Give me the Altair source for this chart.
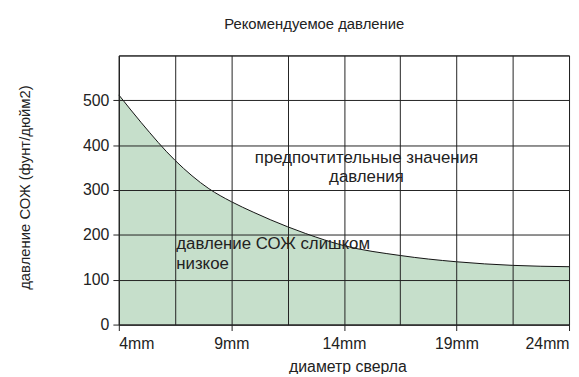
import altair as alt
import pandas as pd

# data
diam = [4, 5, 6.5, 8, 9, 10, 11.5, 12.3, 14, 16.5, 19, 21.5, 24]
press = [512, 450, 366, 303, 274, 250, 218, 203, 176, 154, 140, 132, 129]

grid_x = [4, 6.5, 9, 11.5, 14, 16.5, 19, 21.5, 24]
grid_y = [0, 100, 200, 300, 400, 500, 600]

notes = ["предпочтительные значения\nдавления", "давление СОЖ слишком\nнизкое"]
note_x = [15.0, 6.55]
note_y = [371, 179]
note_align = ["center", "left"]

FONT = "Liberation Sans"

df = pd.DataFrame({"d": diam, "p": press})
notes_df = pd.DataFrame({"t": notes, "x": note_x, "y": note_y, "a": note_align})

xscale = alt.Scale(domain=[4, 24], nice=False, zero=False)
yscale = alt.Scale(domain=[0, 600], nice=False)

area = alt.Chart(df).mark_area(
    color="#c6dfcb", opacity=1, interpolate="monotone",
    line={"color": "#111", "strokeWidth": 1}
).encode(
    x=alt.X("d:Q", scale=xscale, title="диаметр сверла",
            axis=alt.Axis(values=grid_x, grid=True, gridColor="#222", gridOpacity=1,
                          labelExpr="((datum.value - 4) % 5 == 0) ? datum.value + 'mm' : ''",
                          tickOpacity=alt.condition("(datum.value - 4) % 5 == 0", alt.value(1), alt.value(0)),
                          labelFlush=True, tickSize=6, tickColor="#222", domainColor="#222",
                          labelPadding=5, titlePadding=7, titleFontSize=16,
                          titleX=231, titleAlign="center", zindex=1)),
    y=alt.Y("p:Q", scale=yscale, title="давление СОЖ (фунт/дюйм2)",
            axis=alt.Axis(values=grid_y, grid=True, gridColor="#222", gridOpacity=1,
                          labelExpr="datum.value < 600 ? datum.label : ''",
                          tickOpacity=alt.condition("datum.value < 600", alt.value(1), alt.value(0)),
                          tickSize=6, tickColor="#222", domainColor="#222", labelPadding=4,
                          titleX=-95, titleY=133, titleAngle=-90, titleAlign="center",
                          titleBaseline="middle", titleFontSize=15, zindex=1)),
)

left_notes = alt.Chart(notes_df).transform_filter("datum.a == 'left'").mark_text(
    align="left", baseline="middle", lineBreak="\n", lineHeight=20,
    font=FONT, fontSize=17, color="#222"
).encode(x=alt.X("x:Q", scale=xscale), y=alt.Y("y:Q", scale=yscale), text="t:N")

center_notes = alt.Chart(notes_df).transform_filter("datum.a == 'center'").mark_text(
    align="center", baseline="middle", lineBreak="\n", lineHeight=19,
    font=FONT, fontSize=17, color="#222"
).encode(x=alt.X("x:Q", scale=xscale), y=alt.Y("y:Q", scale=yscale), text="t:N")

chart = alt.layer(area, center_notes, left_notes).properties(
    width=455, height=272,
    title=alt.TitleParams("Рекомендуемое давление", anchor="middle", dx=-30, offset=24,
                          font=FONT, fontSize=15, fontWeight="normal", color="#222"),
    autosize=alt.AutoSizeParams(type="none"),
    padding={"left": 112, "top": 46, "right": 2, "bottom": 48},
).configure_view(stroke="#222", strokeWidth=1).configure_axis(
    labelFont=FONT, labelFontSize=16, labelColor="#222",
    titleFont=FONT, titleFontWeight="normal", titleColor="#222"
)

chart.save("out.html", embed_options={"renderer": "svg", "actions": False})
